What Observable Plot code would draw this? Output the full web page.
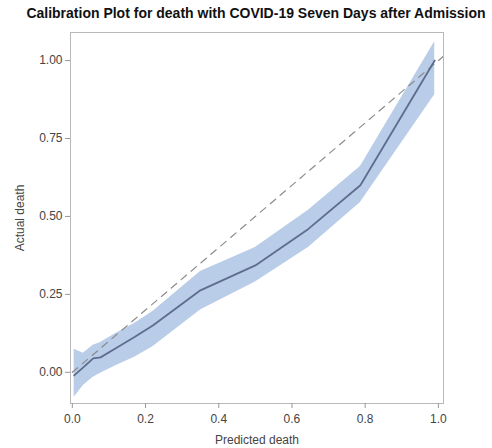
<!DOCTYPE html>
<html>
<head>
<meta charset="utf-8">
<script src="https://cdn.jsdelivr.net/npm/d3@7"></script>
<script src="https://cdn.jsdelivr.net/npm/@observablehq/plot@0.6"></script>
<style>
  body { margin: 0; background: #fff; font-family: "Liberation Sans", Arial, sans-serif; }
  #title { height: 24px; line-height: 26px; width: 492px; padding-left: 20px; box-sizing: border-box; text-align: center; font-weight: bold; font-size: 14px; color: #111; white-space: nowrap; }
</style>
</head>
<body>
<div id="title">Calibration Plot for death with COVID-19 Seven Days after Admission</div>
<div id="chart"></div>
<script>
const predicted = [0.005, 0.03, 0.057, 0.077, 0.12, 0.17, 0.22, 0.35, 0.50, 0.645, 0.787, 0.99];
const actual    = [-0.01, 0.016, 0.045, 0.048, 0.078, 0.113, 0.15, 0.263, 0.343, 0.46, 0.60, 1.0];
const upperCL   = [0.074, 0.061, 0.087, 0.096, 0.125, 0.157, 0.195, 0.323, 0.40, 0.52, 0.66, 1.06];
const lowerCL   = [-0.08, -0.042, -0.016, -0.003, 0.022, 0.048, 0.082, 0.20, 0.29, 0.40, 0.545, 0.89];
const refX = [0, 1.1];
const refY = [0, 1.1];
const xTicks = [0, 0.2, 0.4, 0.6, 0.8, 1.0];
const yTicks = [0, 0.25, 0.5, 0.75, 1.0];

const data = predicted.map((p, i) => ({p, a: actual[i], lo: lowerCL[i], hi: upperCL[i]}));
const ref = refX.map((x, i) => ({x, y: refY[i]}));

const chart = Plot.plot({
  width: 492,
  height: 424,
  marginLeft: 70,
  marginRight: 49,
  marginTop: 8,
  marginBottom: 45,
  style: {fontFamily: "Liberation Sans, Arial, sans-serif", fontSize: "12px", color: "#333", background: "#fff"},
  x: {domain: [-0.005, 1.014]},
  y: {domain: [-0.10, 1.09]},
  marks: [
    Plot.areaY(data, {x: "p", y1: "lo", y2: "hi", fill: "#b9cce8", clip: true}),
    Plot.line(ref, {x: "x", y: "y", stroke: "#8c8c8c", strokeWidth: 1.2, strokeDasharray: "7,6", clip: true}),
    Plot.line(data, {x: "p", y: "a", stroke: "#5d6d8d", strokeWidth: 1.8}),
    Plot.frame({stroke: "#b8b8b8"}),
    Plot.axisX({ticks: xTicks, tickFormat: d3.format(".1f"), tickSize: 5, tickPadding: 6, stroke: "#999", fill: "#444", label: "Predicted death", labelAnchor: "center", labelArrow: "none", labelOffset: 40}),
    Plot.axisY({ticks: yTicks, tickFormat: d3.format(".2f"), tickSize: 5, tickPadding: 3, stroke: "#999", fill: "#444", label: "Actual death", labelAnchor: "center", labelArrow: "none", labelOffset: 55})
  ]
});
document.getElementById("chart").appendChild(chart);
</script>
</body>
</html>
